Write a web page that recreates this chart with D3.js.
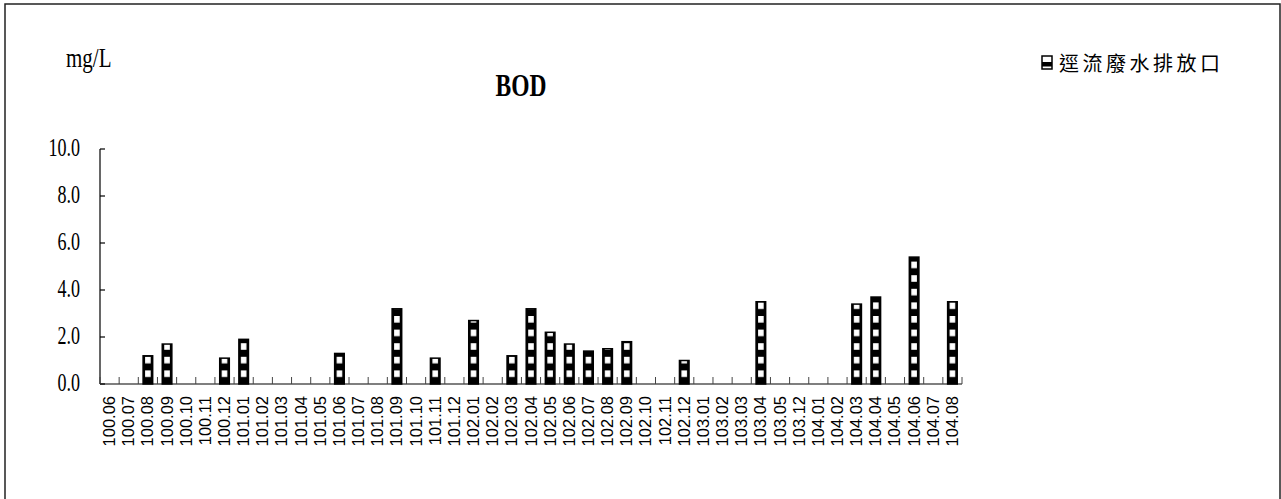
<!DOCTYPE html>
<html><head><meta charset="utf-8">
<script src="https://cdn.jsdelivr.net/npm/d3@7"></script>
<style>body{margin:0;background:#fff;}svg{display:block;}</style>
</head><body>
<svg id="c" width="1281" height="499"></svg>
<script>
const categories = ["100.06","100.07","100.08","100.09","100.10","100.11","100.12",
 "101.01","101.02","101.03","101.04","101.05","101.06","101.07","101.08","101.09","101.10","101.11","101.12",
 "102.01","102.02","102.03","102.04","102.05","102.06","102.07","102.08","102.09","102.10","102.11","102.12",
 "103.01","103.02","103.03","103.04","103.05","103.12",
 "104.01","104.02","104.03","104.04","104.05","104.06","104.07","104.08"];
const bodValues = [null,null,1.2,1.7,null,null,1.1,
 1.9,null,null,null,null,1.3,null,null,3.2,null,1.1,null,
 2.7,null,1.2,3.2,2.2,1.7,1.4,1.5,1.8,null,null,1.0,
 null,null,null,3.5,null,null,
 null,null,3.4,3.7,null,5.4,null,3.5];
const yTicks = [0,2,4,6,8,10];
const seriesName = "逕流廢水排放口";
const titleText = "BOD";
const unitText = "mg/L";

const svg = d3.select("#c");
svg.append("rect").attr("x",5).attr("y",4).attr("width",1275).attr("height",500)
  .attr("fill","#fff").attr("stroke","#222").attr("stroke-width",1.5);

const x = d3.scaleBand().domain(categories).range([100,962]).padding(0);
const y = d3.scaleLinear().domain([0,10]).range([384,149]);
const y0 = y(0);

// y axis
const ya = svg.append("g").attr("transform","translate(100,0)");
ya.append("line").attr("x1",0).attr("x2",0).attr("y1",y(10)).attr("y2",y0).attr("stroke","#000").attr("stroke-width",1.2);
ya.selectAll("line.t").data(yTicks).join("line").attr("class","t")
  .attr("x1",0).attr("x2",5).attr("y1",d=>y(d)).attr("y2",d=>y(d)).attr("stroke","#000").attr("stroke-width",1.2);
ya.selectAll("text").data(yTicks).join("text")
  .attr("transform",d=>`translate(-20,${y(d)+7}) scale(0.95,1.3)`)
  .attr("text-anchor","end").attr("font-family","Liberation Serif").attr("font-size",19)
  .text(d=>d3.format(".1f")(d));

// x axis
svg.append("line").attr("x1",100).attr("x2",962).attr("y1",y0).attr("y2",y0).attr("stroke","#000").attr("stroke-width",1.2);
const bounds = categories.map(c=>x(c)).concat([x(categories[categories.length-1])+x.bandwidth()]);
svg.selectAll("line.xt").data(bounds).join("line").attr("class","xt")
  .attr("x1",d=>d).attr("x2",d=>d).attr("y1",y0).attr("y2",y0-7).attr("stroke","#444").attr("stroke-width",1);
svg.selectAll("text.xl").data(categories).join("text").attr("class","xl")
  .attr("transform",c=>`translate(${x(c)+x.bandwidth()/2+5.5},${y0+12}) rotate(-90)`)
  .attr("text-anchor","end").attr("font-family","Liberation Sans").attr("font-size",16.5)
  .text(c=>c);

// bars with pattern
const bw = x.bandwidth()*0.5;
const period = 13.6;
const whiteH = 6.6;
const data = categories.map((c,i)=>({c,v:bodValues[i],i})).filter(d=>d.v!=null);
const defs = svg.append("defs");
data.forEach(d=>{
  const bx = x(d.c)+(x.bandwidth()-bw)/2;
  const p = defs.append("pattern").attr("id","p"+d.i).attr("patternUnits","userSpaceOnUse")
    .attr("x",bx).attr("y",y0).attr("width",bw).attr("height",period);
  p.append("rect").attr("width",bw).attr("height",period).attr("fill","#000");
  p.append("rect").attr("x",2).attr("y",0).attr("width",bw-4).attr("height",whiteH).attr("fill","#fff");
});
svg.selectAll("rect.bar").data(data).join("rect").attr("class","bar")
  .attr("x",d=>x(d.c)+(x.bandwidth()-bw)/2).attr("width",bw)
  .attr("y",d=>y(d.v)).attr("height",d=>y0-y(d.v))
  .attr("fill",d=>`url(#p${d.i})`).attr("stroke","#000").attr("stroke-width",1.5);

// title & unit
svg.append("text").attr("transform",`translate(521,96) scale(0.98,1.3)`).attr("text-anchor","middle")
  .attr("font-family","Liberation Serif").attr("font-weight","bold").attr("font-size",24).text(titleText);
svg.append("text").attr("transform",`translate(66,67) scale(1,1.3)`)
  .attr("font-family","Liberation Serif").attr("font-size",21).text(unitText);

// legend
const lg = svg.append("g").attr("transform","translate(1042,56)");
lg.append("rect").attr("x",0).attr("y",0).attr("width",10).attr("height",13).attr("fill","#fff").attr("stroke","#000").attr("stroke-width",1.5);
lg.append("rect").attr("x",0).attr("y",6).attr("width",10).attr("height",4.5).attr("fill","#000");
lg.append("text").attr("x",17).attr("y",15).attr("font-family","Noto Sans CJK TC").attr("font-size",20)
  .attr("letter-spacing",3.5).text(seriesName);
</script>
</body></html>
